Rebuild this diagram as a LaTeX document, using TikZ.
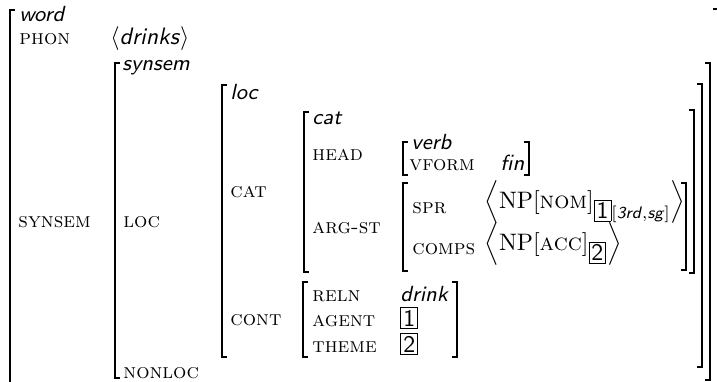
\documentclass[tikz,border=0pt]{standalone}
\usepackage{amsmath}
\usetikzlibrary{positioning}
\tikzstyle{Attr}=[anchor=base west, inner sep=0pt, font=\fontsize{8.8}{10}\selectfont\scshape]
\tikzstyle{Type}=[anchor=base west, inner sep=0pt, font=\fontsize{9.2}{11}\selectfont\sffamily\itshape]
\tikzstyle{Val}=[anchor=base west, inner sep=0pt]
\tikzstyle{Brack}=[line width=0.8pt]
\newcommand{\tagbox}[1]{{\setlength{\fboxsep}{0.8pt}\setlength{\fboxrule}{0.4pt}\fbox{\sffamily #1}}}
\newcommand{\sfit}[1]{\textsf{\textit{#1}}}

\begin{document}
\begin{tikzpicture}[x=0.42pt, y=-0.42pt]
      \useasboundingbox (0,0) rectangle (717,381);
      \clip (0,0) rectangle (717,381);
      % labels and types
      \node[Type] (word) at (19,22) {word};
      \node[Attr] (phon) at (19,45) {phon};
      \node[Val] (phonval) at (110,45) {$\langle$\sfit{drinks}$\rangle$};
      \node[Attr] (synsem) at (18,227) {synsem};
      \node[Type] (synsemT) at (122,71) {synsem};
      \node[Attr] (loc) at (123,227) {loc};
      \node[Attr] (nonloc) at (123,378) {nonloc};
      \node[Type] (locT) at (230,100) {loc};
      \node[Attr] (cat) at (230,197) {cat};
      \node[Attr] (cont) at (230,325) {cont};
      \node[Type] (catT) at (312,124) {cat};
      \node[Attr] (head) at (312,160) {head};
      \node[Attr] (argst) at (312,233) {arg-st};
      \node[Type] (verb) at (411,149) {verb};
      \node[Attr] (vform) at (409,170) {vform};
      \node[Type] (fin) at (500,170) {fin};
      \node[Attr] (spr) at (412,213) {spr};
      \node[Attr] (comps) at (412,254) {comps};
      \node[Val] (sprval) at (484,208)
        {$\Bigl\langle\mathrm{NP}[\textsc{nom}]_{\tagbox{1}[\text{\sfit{3rd}},\text{\sfit{sg}}]}\Bigr\rangle$};
      \node[Val] (compsval) at (484,250)
        {$\Bigl\langle\mathrm{NP}[\textsc{acc}]_{\tagbox{2}}\Bigr\rangle$};
      \node[Attr] (reln) at (312,301) {reln};
      \node[Attr] (agent) at (312,326) {agent};
      \node[Attr] (theme) at (312,352) {theme};
      \node[Type] (drink) at (400,301) {drink};
      \node[Val] (tag1) at (400,326) {\tagbox{1}};
      \node[Val] (tag2) at (400,352) {\tagbox{2}};
      % brackets
      \draw[Brack] (15,10) -| (10,390) -- (15,390);
      \draw[Brack] (713,9) -| (718,390) -- (713,390);
      \draw[Brack] (120,63) -| (115,378) -- (120,378);
      \draw[Brack] (705,63) -| (710,380) -- (705,380);
      \draw[Brack] (227,85) -| (222,357) -- (227,357);
      \draw[Brack] (697,84) -| (702,367) -- (697,367);
      \draw[Brack] (309,112) -| (304,272) -- (309,272);
      \draw[Brack] (689,110) -| (694,273) -- (689,273);
      \draw[Brack] (408,142) -| (403,175) -- (408,175);
      \draw[Brack] (524,142) -| (529,175) -- (524,175);
      \draw[Brack] (408,183) -| (403,271) -- (408,271);
      \draw[Brack] (681,183) -| (686,270) -- (681,270);
      \draw[Brack] (308,282) -| (303,357) -- (308,357);
      \draw[Brack] (452,282) -| (457,357) -- (452,357);
\end{tikzpicture}
\end{document}
